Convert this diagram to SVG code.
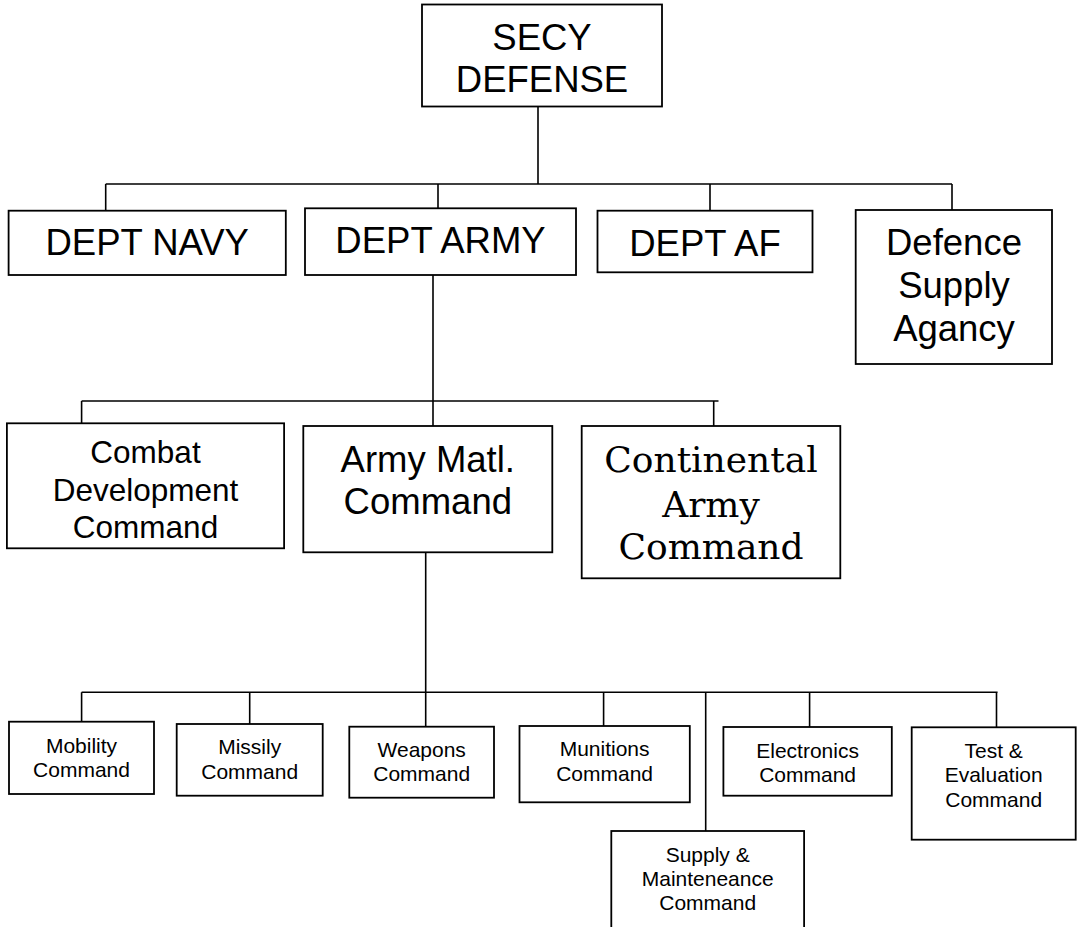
<svg xmlns="http://www.w3.org/2000/svg" width="1078" height="927" viewBox="0 0 1078 927">
<style>
.box{fill:#fff;stroke:#000;stroke-width:1.8}
.conn{fill:none;stroke:#000;stroke-width:1.6}
text{font-family:"Liberation Sans",Arial,sans-serif;fill:#000;text-anchor:middle}
.l{font-size:36.5px}
.c{font-size:31.5px}
.s{font-size:21px}
.serif{font-family:"DejaVu Serif","Liberation Serif",serif;font-size:36px}
</style>
<rect width="1078" height="927" fill="#fff"/>
<g id="connectors">
<path class="conn" d="M538,106.7V184M105.7,184H952M105.7,184V210.7M438,184V208.3M710,184V210.7M952,184V210"/>
<path class="conn" d="M433,275V426M81.6,401H718.5M81.6,401V423.3M713.7,401V426"/>
<path class="conn" d="M425.7,552.3V726.7M81.6,692.3H997.6M81.6,692.3V721.7M249.7,692.3V724M603.6,692.3V726M705.7,692.3V831M809.6,692.3V727M996.5,692.3V727.3"/>
</g>
<g id="secy"><rect class="box" x="422" y="4.5" width="240" height="102"/><text class="l" x="542" y="50">SECY</text><text class="l" x="542" y="92">DEFENSE</text></g>
<g id="navy"><rect class="box" x="8.6" y="210.7" width="277.2" height="64.3"/><text class="l" x="147.2" y="255">DEPT NAVY</text></g>
<g id="army"><rect class="box" x="305" y="208.3" width="271" height="66.7"/><text class="l" x="440.5" y="253.3">DEPT ARMY</text></g>
<g id="af"><rect class="box" x="597.5" y="210.7" width="215" height="61.6"/><text class="l" x="705" y="255.7">DEPT AF</text></g>
<g id="dsa"><rect class="box" x="855.7" y="210" width="196.3" height="154"/><text class="l" x="954" y="255">Defence</text><text class="l" x="954" y="298">Supply</text><text class="l" x="954" y="341">Agancy</text></g>
<g id="combat"><rect class="box" x="6.9" y="423.3" width="277.2" height="125"/><text class="c" x="145.5" y="463">Combat</text><text class="c" x="145.5" y="500.5">Development</text><text class="c" x="145.5" y="538">Command</text></g>
<g id="amc"><rect class="box" x="303.3" y="426" width="249" height="126.3"/><text class="l" x="427.8" y="471.5">Army Matl.</text><text class="l" x="427.8" y="514">Command</text></g>
<g id="conarc"><rect class="box" x="581.7" y="426" width="258.6" height="152.3"/><text class="serif" x="711" y="472.3">Continental</text><text class="serif" x="711" y="516.5">Army</text><text class="serif" x="711" y="559">Command</text></g>
<g id="mobility"><rect class="box" x="9" y="721.7" width="145" height="72.3"/><text class="s" x="81.5" y="752.7">Mobility</text><text class="s" x="81.5" y="777.3">Command</text></g>
<g id="missily"><rect class="box" x="176.7" y="724" width="146" height="71.7"/><text class="s" x="249.7" y="754.3">Missily</text><text class="s" x="249.7" y="779">Command</text></g>
<g id="weapons"><rect class="box" x="349.3" y="726.7" width="144.7" height="71"/><text class="s" x="421.7" y="756.7">Weapons</text><text class="s" x="421.7" y="780.7">Command</text></g>
<g id="munitions"><rect class="box" x="519.5" y="726" width="170.3" height="76.3"/><text class="s" x="604.6" y="756">Munitions</text><text class="s" x="604.6" y="781">Command</text></g>
<g id="electronics"><rect class="box" x="723.4" y="727" width="168.4" height="68.7"/><text class="s" x="807.6" y="757.7">Electronics</text><text class="s" x="807.6" y="782">Command</text></g>
<g id="test"><rect class="box" x="911.7" y="727.3" width="164" height="112.4"/><text class="s" x="993.7" y="757.7">Test &amp;</text><text class="s" x="993.7" y="782.3">Evaluation</text><text class="s" x="993.7" y="806.7">Command</text></g>
<g id="supply"><rect class="box" x="611.3" y="831" width="192.8" height="110"/><text class="s" x="707.7" y="862.3">Supply &amp;</text><text class="s" x="707.7" y="885.7">Mainteneance</text><text class="s" x="707.7" y="910">Command</text></g>
</svg>
